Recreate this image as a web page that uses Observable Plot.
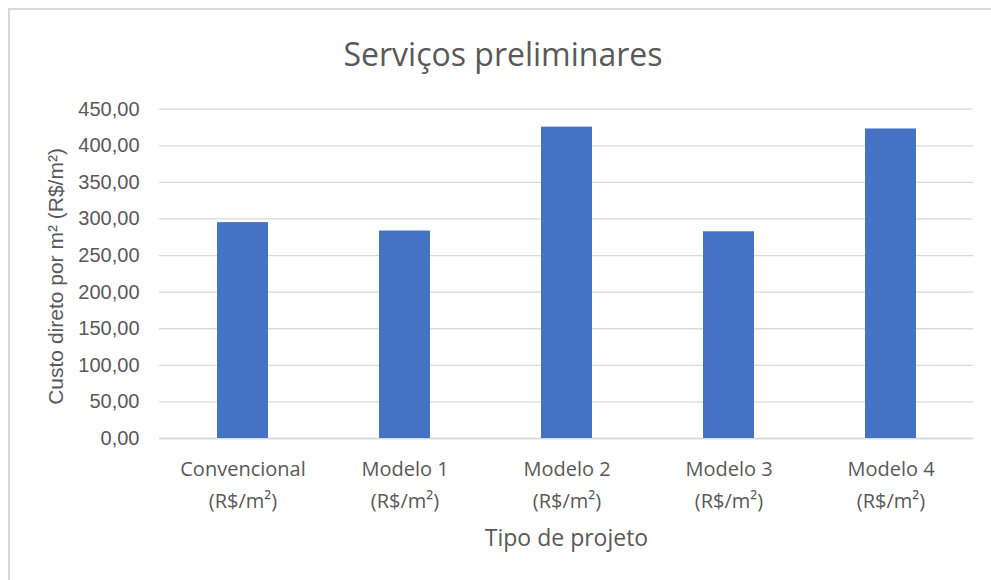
<!DOCTYPE html>
<html>
<head>
<meta charset="utf-8">
<script src="https://cdn.jsdelivr.net/npm/d3@7"></script>
<script src="https://cdn.jsdelivr.net/npm/@observablehq/plot@0.6"></script>
<style>
  html, body { margin: 0; padding: 0; background: #fff; }
  #wrap { position: relative; width: 991px; height: 580px; overflow: hidden; background: #fff; }
  #frame { position: absolute; left: 8px; top: 8px; width: 1010px; height: 600px; border: 2px solid #d9d9d9; box-sizing: border-box; z-index: 5; pointer-events: none; }
  #title { position: absolute; left: 0; top: 0; width: 991px; box-sizing: border-box; padding-left: 15px; padding-top: 32px;
           text-align: center; font-family: "Open Sans", sans-serif; font-size: 32px; line-height: normal; color: #595959; z-index: 2; }
  #chart { position: absolute; left: 0; top: 80px; z-index: 1; }
</style>
</head>
<body>
<div id="wrap">
  <div id="chart"></div>
  <div id="title">Serviços preliminares</div>
  <div id="frame"></div>
</div>
<script>
const categories = ["Convencional", "Modelo 1", "Modelo 2", "Modelo 3", "Modelo 4"];
const tickLabels = ["Convencional\n(R$/m²)", "Modelo 1\n(R$/m²)", "Modelo 2\n(R$/m²)", "Modelo 3\n(R$/m²)", "Modelo 4\n(R$/m²)"];
const values = [295.0, 283.5, 425.5, 282.5, 423.0];
const yTicks = [0, 50, 100, 150, 200, 250, 300, 350, 400, 450];
const yLabel = "Custo direto por m² (R$/m²)";
const xLabel = "Tipo de projeto";

const data = categories.map((c, i) => ({category: c, value: values[i]}));
const fmt = v => v.toFixed(2).replace(".", ",");

const chart = Plot.plot({
  width: 991,
  height: 500,
  marginLeft: 159,
  marginRight: 18,
  marginTop: 28.7,
  marginBottom: 142,
  style: {background: "transparent", color: "#595959", overflow: "visible"},
  x: {domain: categories, paddingInner: 0.687, paddingOuter: 0.3435},
  y: {domain: [0, 450]},
  marks: [
    Plot.gridY(yTicks, {stroke: "#d9d9d9", strokeOpacity: 1, strokeWidth: 1.3}),
    Plot.ruleY([0], {stroke: "#d9d9d9", strokeWidth: 1.5}),
    Plot.barY(data, {x: "category", y: "value", fill: "#4472C4"}),
    Plot.axisY(yTicks, {tickSize: 0, tickPadding: 20, tickFormat: fmt, fontSize: 20,
      fontFamily: "'Liberation Sans', Arial, sans-serif", fill: "#595959", label: null}),
    Plot.axisX({tickSize: 0, tickPadding: 15, tickFormat: d => tickLabels[categories.indexOf(d)],
      fontSize: 20, lineHeight: 1.6, fontFamily: "'Open Sans', sans-serif", fill: "#595959", label: null}),
    Plot.text([yLabel], {frameAnchor: "left", textAnchor: "middle", lineAnchor: "middle", rotate: -90, dx: -103, dy: 2.6, fontSize: 21,
      fontFamily: "'Liberation Sans', Arial, sans-serif", fill: "#595959"}),
    Plot.text([xLabel], {frameAnchor: "bottom", textAnchor: "middle", lineAnchor: "middle", dy: 100.3, fontSize: 23,
      fontFamily: "'Open Sans', sans-serif", fill: "#595959"})
  ]
});
document.getElementById("chart").appendChild(chart);
</script>
</body>
</html>
